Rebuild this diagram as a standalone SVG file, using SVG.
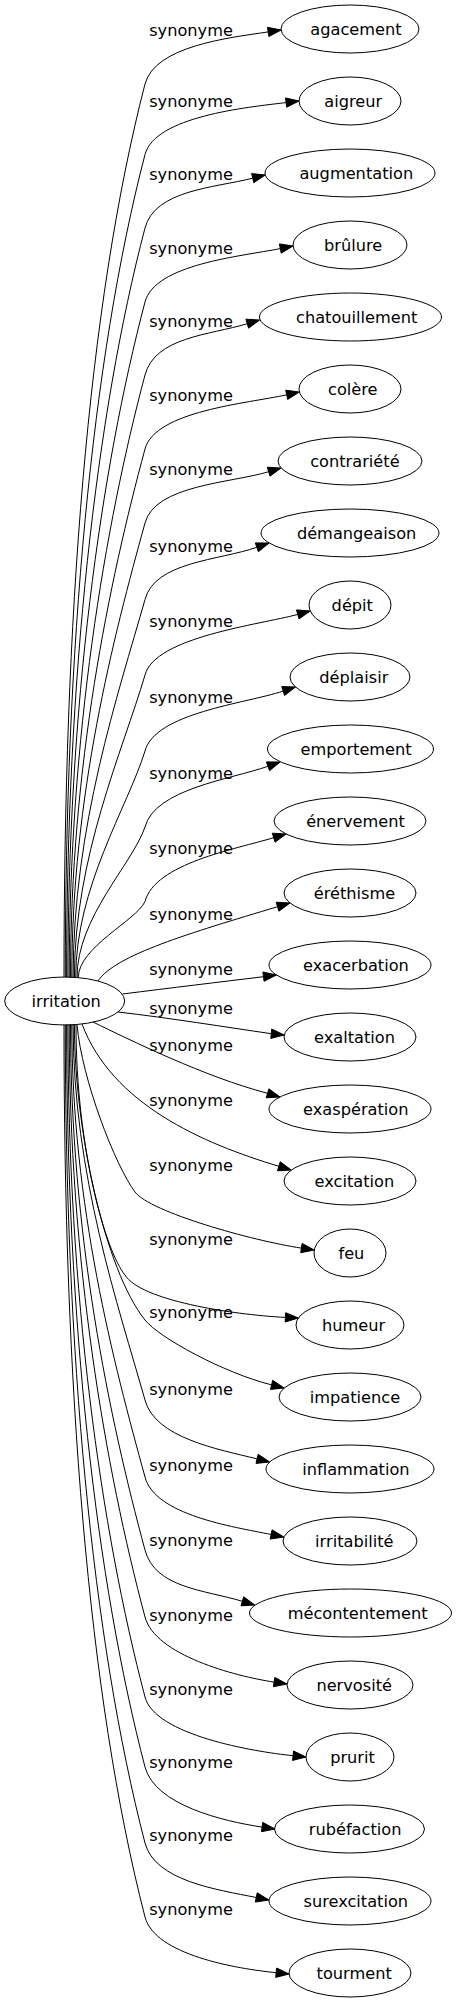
<svg xmlns="http://www.w3.org/2000/svg" width="456" height="2003" viewBox="0 0 456 2003">
<style>
.n ellipse{fill:none;stroke:#000;stroke-width:1}
.e path{fill:none;stroke:#000;stroke-width:1}
.e polygon{fill:#000;stroke:#000;stroke-width:1}
text{font-family:"DejaVu Sans","Liberation Sans",sans-serif;font-size:16.2px;fill:#000;text-anchor:middle}
</style>
<rect width="456" height="2003" fill="#fff"/>
<g id="connectors">
<g id="e1" class="e"><path d="M64,977.2 C64,619.9 87.4,307.3 145,84 C155,46 228.6,37.8 268.2,31.9"/><polygon points="281.1,30 268.9,36.6 267.5,27.3"/><text x="191" y="35.5">synonyme</text></g>
<g id="e2" class="e"><path d="M65.3,977.2 C65.3,648.1 91.6,360.2 145,154.5 C155,116.5 246.4,107.3 286.1,102.6"/><polygon points="299,101 286.7,107.2 285.5,97.9"/><text x="191" y="106.5">synonyme</text></g>
<g id="e3" class="e"><path d="M66.6,977.3 C66.6,677.6 96,415.3 145,228 C155,190 213.9,187.9 252.7,178.2"/><polygon points="265.3,175 253.8,182.7 251.6,173.6"/><text x="191" y="180">synonyme</text></g>
<g id="e4" class="e"><path d="M67.9,977.4 C67.9,707.2 100.5,470.9 145,302 C155,264 241.1,256.4 280.3,248.6"/><polygon points="293.1,246 281.2,253.2 279.4,243.9"/><text x="191" y="254">synonyme</text></g>
<g id="e5" class="e"><path d="M69.2,977.4 C69.2,736.4 104.9,525.6 145,375 C155,337 209,335.2 247.3,323.7"/><polygon points="259.7,320 248.6,328.2 245.9,319.2"/><text x="191" y="327">synonyme</text></g>
<g id="e6" class="e"><path d="M70.5,977.5 C70.5,766.1 109.3,581.1 145,449 C155,411 247.6,403.4 286.7,394.8"/><polygon points="299.4,392 287.7,399.4 285.7,390.2"/><text x="191" y="401">synonyme</text></g>
<g id="e7" class="e"><path d="M71.8,977.5 C71.8,795.7 113.7,636.6 145,523 C155,485 230.4,483.2 268.7,471.7"/><polygon points="281.1,468 270,476.2 267.3,467.2"/><text x="191" y="475">synonyme</text></g>
<g id="e8" class="e"><path d="M73.1,977.5 C73.1,826.3 118.3,694 145,599.5 C155,561.5 219,560.5 256.8,547.3"/><polygon points="269.1,543 258.4,551.7 255.3,542.9"/><text x="191" y="551.5">synonyme</text></g>
<g id="e9" class="e"><path d="M74.4,977.6 C74.4,856.6 122.8,750.7 145,675 C155,637 259.2,624.8 297.8,614.4"/><polygon points="310.3,611 299,618.9 296.5,609.9"/><text x="191" y="627">synonyme</text></g>
<g id="e10" class="e"><path d="M75.7,977.6 C75.7,887 127.4,807.7 145,751 C155,713 245.2,703.6 283.2,691.1"/><polygon points="295.5,687 284.6,695.5 281.7,686.6"/><text x="191" y="703">synonyme</text></g>
<g id="e11" class="e"><path d="M77,977.6 C77,917.4 132,864.7 145,827 C155,789 230.1,779.5 267.9,766.3"/><polygon points="280.2,762 269.5,770.7 266.4,761.9"/><text x="191" y="779">synonyme</text></g>
<g id="e12" class="e"><path d="M78.3,977.6 C78.3,947.2 136.4,920.5 145,901.5 C155,863.5 235.4,849.2 273.7,837.7"/><polygon points="286.1,834 275,842.2 272.3,833.2"/><text x="191" y="853.5">synonyme</text></g>
<g id="e13" class="e"><path d="M98,981 C115,955 190,933 277.6,906.7"/><polygon points="290,903 278.9,911.2 276.2,902.2"/><text x="191" y="920">synonyme</text></g>
<g id="e14" class="e"><path d="M122.5,994 C170,988 220,982 263.5,976.7"/><polygon points="276.4,975 264.1,981.3 262.9,972"/><text x="191" y="975">synonyme</text></g>
<g id="e15" class="e"><path d="M118,1012 C170,1018 225,1027 271.3,1033.7"/><polygon points="284.2,1035 270.8,1038.4 271.7,1029"/><text x="191" y="1014">synonyme</text></g>
<g id="e16" class="e"><path d="M93,1022 C130,1040 205,1077 267.6,1093.3"/><polygon points="280,1097 266.2,1097.8 268.9,1088.8"/><text x="191" y="1051">synonyme</text></g>
<g id="e17" class="e"><path d="M82,1024 C112,1104 202.2,1143.3 278.9,1166.3"/><polygon points="291.3,1170 277.5,1170.8 280.2,1161.8"/><text x="191" y="1106">synonyme</text></g>
<g id="e18" class="e"><path d="M77,1024.6 C82,1080 115,1165 135,1192 C150,1212 252,1240.7 301.4,1248.1"/><polygon points="314.3,1250 300.7,1252.7 302.1,1243.4"/><text x="191" y="1171">synonyme</text></g>
<g id="e19" class="e"><path d="M76,1024.6 C76,1150 106,1252 125,1275 C140,1300 230.5,1314.6 285.4,1317.4"/><polygon points="298.4,1318 285.2,1322 285.7,1312.7"/><text x="191" y="1244.5">synonyme</text></g>
<g id="e20" class="e"><path d="M74.4,1024.6 C74.4,1130 105,1270 145,1320 C159,1337.5 223.1,1372.7 271.6,1384.9"/><polygon points="284.2,1388 270.5,1389.4 272.7,1380.3"/><text x="191" y="1318">synonyme</text></g>
<g id="e21" class="e"><path d="M73.1,1024.6 C73.1,1174.8 118.5,1306.2 145,1400 C155,1438 218.3,1449.2 257.1,1458.9"/><polygon points="269.7,1462 256,1463.4 258.2,1454.3"/><text x="191" y="1394.5">synonyme</text></g>
<g id="e22" class="e"><path d="M71.8,1024.6 C71.8,1205.6 113.9,1363.9 145,1477 C155,1515 232,1526.6 271.2,1534.5"/><polygon points="283.9,1537 270.2,1539.1 272.1,1529.8"/><text x="191" y="1471">synonyme</text></g>
<g id="e23" class="e"><path d="M70.5,1024.6 C70.5,1234.8 109.5,1418.7 145,1550 C155,1588 204.1,1589.8 242.4,1601.3"/><polygon points="254.8,1605 241,1605.8 243.7,1596.8"/><text x="191" y="1546">synonyme</text></g>
<g id="e24" class="e"><path d="M69.2,1024.6 C69.2,1261.6 105.5,1468.9 145,1617 C155,1655 234.6,1676.1 274.1,1682.1"/><polygon points="287,1684 273.4,1686.7 274.8,1677.4"/><text x="191" y="1621">synonyme</text></g>
<g id="e25" class="e"><path d="M67.9,1024.6 C67.9,1293.6 100.7,1528.9 145,1697 C155,1735 253.3,1751.7 293.1,1755.7"/><polygon points="306,1757 292.6,1760.4 293.5,1751"/><text x="191" y="1694.5">synonyme</text></g>
<g id="e26" class="e"><path d="M66.6,1024.6 C66.6,1321.6 96.5,1581.4 145,1767 C155,1805 222.6,1821.1 262.1,1827.1"/><polygon points="275,1829 261.4,1831.7 262.8,1822.4"/><text x="191" y="1768">synonyme</text></g>
<g id="e27" class="e"><path d="M65.3,1024.6 C65.3,1352 91.9,1638.4 145,1843 C155,1881 217.1,1889.6 256.3,1897.5"/><polygon points="269,1900 255.3,1902.1 257.2,1892.8"/><text x="191" y="1841">synonyme</text></g>
<g id="e28" class="e"><path d="M64,1024.6 C64,1381.6 87.5,1693.9 145,1917 C155,1955 236.4,1968.7 276.2,1972.7"/><polygon points="289.1,1974 275.7,1977.4 276.6,1968"/><text x="191" y="1914.5">synonyme</text></g>
</g>
<g id="irritation" class="n"><ellipse cx="64.7" cy="1001" rx="60" ry="24"/><text x="66.2" y="1006.5">irritation</text></g>
<g id="agacement" class="n"><ellipse cx="350" cy="29" rx="69" ry="24"/><text x="356" y="34.5">agacement</text></g>
<g id="aigreur" class="n"><ellipse cx="350" cy="101" rx="51" ry="24"/><text x="353.2" y="106.5">aigreur</text></g>
<g id="augmentation" class="n"><ellipse cx="350" cy="173" rx="85" ry="24"/><text x="356.3" y="178.5">augmentation</text></g>
<g id="brulure" class="n"><ellipse cx="350" cy="245" rx="57" ry="24"/><text x="353.2" y="250.5">brûlure</text></g>
<g id="chatouillement" class="n"><ellipse cx="350.5" cy="317" rx="91" ry="24"/><text x="356.7" y="322.5">chatouillement</text></g>
<g id="colere" class="n"><ellipse cx="350" cy="389" rx="51" ry="24"/><text x="352.8" y="394.5">colère</text></g>
<g id="contrariete" class="n"><ellipse cx="350" cy="461" rx="72" ry="24"/><text x="354.9" y="466.5">contrariété</text></g>
<g id="demangeaison" class="n"><ellipse cx="350" cy="533" rx="89" ry="24"/><text x="356.6" y="538.5">démangeaison</text></g>
<g id="depit" class="n"><ellipse cx="350" cy="605" rx="41" ry="24"/><text x="352.3" y="610.5">dépit</text></g>
<g id="deplaisir" class="n"><ellipse cx="350" cy="677" rx="60" ry="24"/><text x="353.8" y="682.5">déplaisir</text></g>
<g id="emportement" class="n"><ellipse cx="350.5" cy="749" rx="83" ry="24"/><text x="356.1" y="754.5">emportement</text></g>
<g id="enervement" class="n"><ellipse cx="350" cy="821" rx="76" ry="24"/><text x="355.5" y="826.5">énervement</text></g>
<g id="erethisme" class="n"><ellipse cx="350" cy="893" rx="66" ry="24"/><text x="354.5" y="898.5">éréthisme</text></g>
<g id="exacerbation" class="n"><ellipse cx="350" cy="965" rx="81" ry="24"/><text x="355.9" y="970.5">exacerbation</text></g>
<g id="exaltation" class="n"><ellipse cx="350" cy="1037" rx="66" ry="24"/><text x="354.5" y="1042.5">exaltation</text></g>
<g id="exasperation" class="n"><ellipse cx="350" cy="1109" rx="81" ry="24"/><text x="355.8" y="1114.5">exaspération</text></g>
<g id="excitation" class="n"><ellipse cx="350" cy="1181" rx="66" ry="24"/><text x="354.4" y="1186.5">excitation</text></g>
<g id="feu" class="n"><ellipse cx="350" cy="1253" rx="36" ry="24"/><text x="351.4" y="1258.5">feu</text></g>
<g id="humeur" class="n"><ellipse cx="350" cy="1325" rx="54" ry="24"/><text x="353.5" y="1330.5">humeur</text></g>
<g id="impatience" class="n"><ellipse cx="350" cy="1397" rx="71" ry="24"/><text x="355" y="1402.5">impatience</text></g>
<g id="inflammation" class="n"><ellipse cx="350" cy="1469" rx="84" ry="24"/><text x="355.9" y="1474.5">inflammation</text></g>
<g id="irritabilite" class="n"><ellipse cx="350" cy="1541" rx="67" ry="24"/><text x="354.3" y="1546.5">irritabilité</text></g>
<g id="mecontentement" class="n"><ellipse cx="350.5" cy="1613" rx="101" ry="24"/><text x="357.7" y="1618.5">mécontentement</text></g>
<g id="nervosite" class="n"><ellipse cx="350" cy="1685" rx="63" ry="24"/><text x="354.2" y="1690.5">nervosité</text></g>
<g id="prurit" class="n"><ellipse cx="350" cy="1757" rx="44" ry="24"/><text x="352.5" y="1762.5">prurit</text></g>
<g id="rubefaction" class="n"><ellipse cx="349.5" cy="1829" rx="75" ry="24"/><text x="355.1" y="1834.5">rubéfaction</text></g>
<g id="surexcitation" class="n"><ellipse cx="350" cy="1901" rx="81" ry="24"/><text x="355.8" y="1906.5">surexcitation</text></g>
<g id="tourment" class="n"><ellipse cx="350" cy="1973" rx="61" ry="24"/><text x="354.2" y="1978.5">tourment</text></g>
</svg>
